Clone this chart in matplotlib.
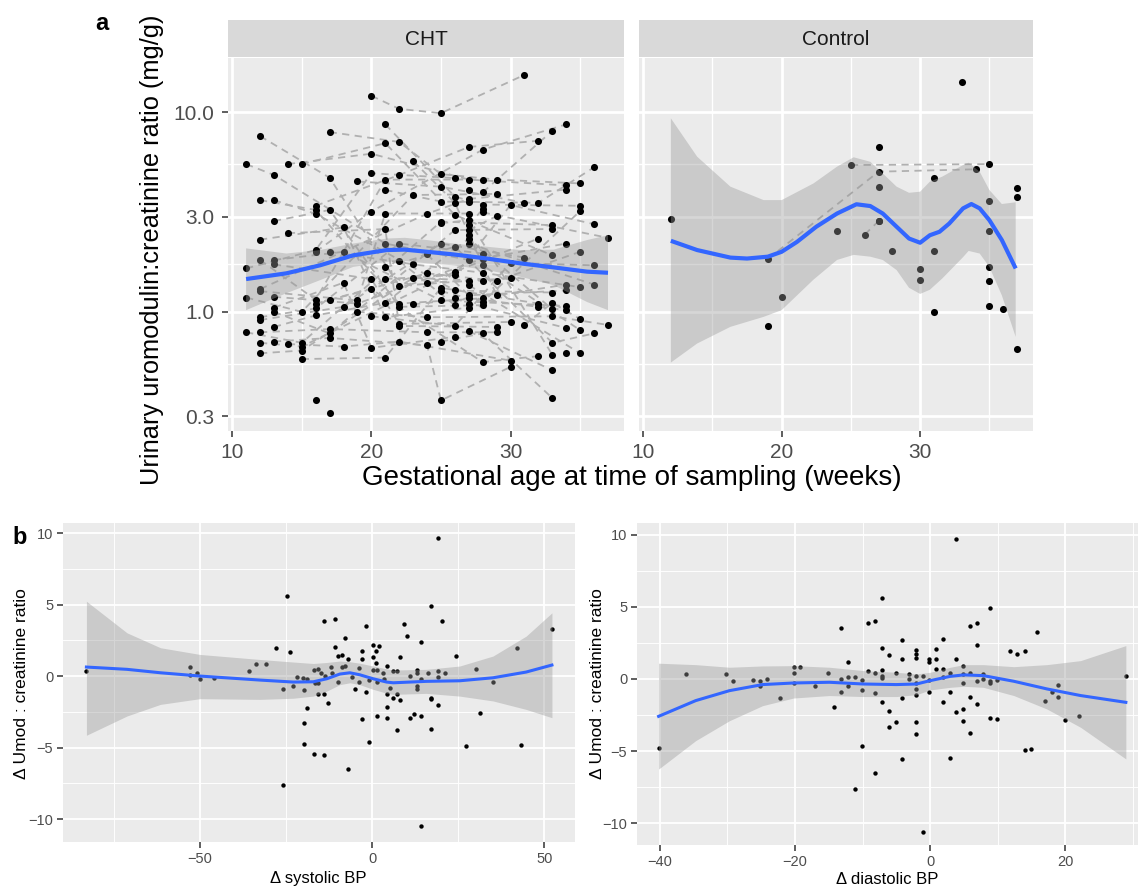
import numpy as np
import matplotlib
matplotlib.use("Agg")
import matplotlib.pyplot as plt
from matplotlib.ticker import FixedLocator, NullFormatter

plt.rcParams['font.family'] = ['Liberation Sans', 'DejaVu Sans']

# ---- panel a : CHT, one entry per sample; subject id links the dashed lines
cht_subject = [1, 1, 1, 1,  2, 2, 2, 2,  3, 3, 3, 3,  4, 4, 4, 4,  5, 5, 5, 5,
               6, 6, 6, 6,  7, 7, 7, 7,  8, 8, 8, 8,  9, 9, 9, 9,  10, 10, 10, 10,
               11, 11, 11, 11,  12, 12, 12, 12,  13, 13, 13, 13,  14, 14, 14, 14,
               15, 15, 15, 15,  16, 16, 16, 16,  17, 17, 17, 17,  18, 18, 18, 18,
               19, 19, 19, 19,  20, 20, 20, 20,  21, 21, 21, 21,  22, 22, 22, 22,
               23, 23, 23, 23, 23,  24, 24, 24, 24, 24,  25, 25, 25, 25,  26, 26, 26, 26,
               27, 27, 27, 27,  28, 28, 28, 28,  29, 29, 29, 29,  30, 30, 30, 30,
               31, 31, 31, 31,  32, 32, 32, 32,  33,  34, 34, 34, 34, 34,
               35, 35, 35, 35,  36, 36, 36, 36,  37,  38, 38, 38,  39, 39, 39, 39,
               40, 40, 40, 40,  41, 41, 41, 41,  42, 42, 42, 42,  43, 43, 43, 43,
               44, 44, 44, 44,  45, 45, 45, 45,  46, 46,  47, 47, 47, 47,  48, 48, 48, 48,
               49, 49,  50, 50, 50,  51, 51, 51,  52, 52, 52,  53, 53, 53,  54, 54, 54,
               55, 55,  56, 56,  57, 57, 57,  58, 58,  59, 59,  60, 60,  61, 61,
               62, 62, 62,  63, 63,  64,  65,  66]
cht_week = [11, 13, 21, 27,  11, 16, 20, 26,  11, 15, 23, 29,  11, 15, 25, 33,  12, 17, 22, 27,
            12, 16, 22, 28,  12, 18, 21, 27,  12, 16, 21, 28,  12, 24, 27, 34,  12, 19, 21, 27,
            12, 16, 22, 28,  12, 18, 25, 31,  12, 17, 24, 29,  12, 15, 26, 32,
            12, 15, 23, 28,  13, 16, 26, 33,  13, 17, 22, 28,  13, 18, 25, 34,
            13, 20, 22, 30,  13, 19, 28, 34,  13, 18, 20, 26,  13, 17, 26, 33,
            13, 16, 21, 27, 33,  13, 17, 24, 25, 30,  14, 20, 27, 34,  14, 21, 22, 29,
            14, 18, 22, 30,  15, 21, 26, 33,  15, 21, 25, 32,  16, 22, 27, 32,
            16, 20, 28, 34,  16, 20, 28, 32,  16,  17, 22, 25, 29, 35,
            17, 23, 28, 35,  17, 24, 29, 35,  17,  19, 25, 31,  19, 24, 33, 37,
            20, 22, 25, 31,  20, 26, 30, 36,  21, 26, 28, 35,  21, 25, 32, 36,
            21, 26, 33, 36,  21, 26, 30, 36,  22, 26,  23, 26, 29, 34,  23, 27, 32, 34,
            24, 30,  24, 27, 34,  25, 27, 33,  25, 28, 35,  25, 28, 33,  26, 27, 34,
            27, 28,  27, 29,  27, 28, 35,  27, 36,  27, 35,  27, 33,  28, 33,
            31, 33, 35,  28, 37,  27,  27,  34]
cht_ratio = [5.5, 4.85, 2.2, 1.82,  1.65, 2.04, 4.95, 4.68,  1.18, 1.0, 3.85, 3.9,  0.79, 0.7, 2.83, 2.72,
             7.6, 4.7, 1.35, 1.43,  3.63, 3.24, 1.1, 1.17,  2.3, 2.65, 0.94, 1.05,  1.82, 1.15, 4.6, 4.6,
             1.3, 3.1, 3.68, 4.1,  1.27, 1.14, 3.11, 3.11,  0.94, 1.04, 2.2, 1.96,  0.91, 1.06, 2.2, 1.87,
             0.79, 0.82, 0.79, 0.79,  0.7, 0.67, 1.59, 2.33,  0.62, 0.64, 1.48, 1.43,  3.63, 3.1, 1.28, 1.25,
             2.85, 3.24, 1.06, 1.08,  1.82, 2.0, 1.14, 1.07,  1.73, 1.46, 0.87, 0.89,  1.19, 1.1, 1.85, 2.2,
             1.05, 1.4, 0.66, 0.75,  1.0, 0.78, 2.57, 2.6,  0.84, 0.96, 1.11, 2.33, 1.03,
             0.71, 0.74, 0.68, 0.36, 0.53,  5.5, 6.2, 4.6, 4.3,  2.48, 2.6, 0.85, 0.84,
             0.69, 0.67, 0.71, 0.57,  5.5, 7.0, 3.06, 1.92,  0.58, 0.59, 1.32, 1.1,  3.4, 4.85, 6.7, 7.2,
             2.0, 3.18, 6.5, 8.7,  1.1, 1.3, 0.56, 0.6,  0.36,  7.96, 7.1, 4.9, 4.6, 4.4,
             2.0, 1.73, 1.57, 1.33,  1.15, 1.56, 1.43, 2.0,  0.31,  4.5, 4.24, 3.52,  1.0, 0.94, 0.95, 0.86,
             12.1, 10.4, 9.9, 15.4,  0.95, 0.85, 1.76, 1.71,  8.7, 3.78, 3.45, 3.4,  4.08, 3.57, 3.52, 5.3,
             1.67, 2.12, 0.7, 0.78,  1.46, 1.53, 3.43, 2.75,  1.8, 1.08,  5.7, 3.52, 1.21, 1.37,
             1.09, 1.17, 1.06, 1.02,  1.4, 1.47,  1.94, 1.21, 1.28,  2.78, 2.88, 0.61,  1.27, 1.12, 3.2,
             0.71, 0.78, 0.37,  1.17, 1.1, 0.83,  2.72, 3.27,  2.57, 3.02,  2.43, 1.71, 0.81,  2.2, 1.37,
             1.36, 0.62,  0.8, 0.51,  3.97, 8.07,  0.86, 1.11, 0.92,  3.15, 2.35,  4.1,  3.57,  0.62]

# loess fit
cht_fit_week = [11.0, 13.9, 16.3, 18.7, 21.1, 22.4, 24.0, 25.9, 28.3, 30.7, 33.1, 35.5, 37.0]
cht_fit = [1.46, 1.56, 1.71, 1.92, 2.04, 2.05, 2.00, 1.94, 1.85, 1.75, 1.67, 1.59, 1.57]
cht_upper = [2.08, 1.96, 2.04, 2.20, 2.33, 2.35, 2.29, 2.20, 2.12, 2.04, 2.05, 2.29, 2.42]
cht_lower = [1.02, 1.24, 1.44, 1.68, 1.78, 1.80, 1.75, 1.71, 1.62, 1.50, 1.36, 1.12, 1.02]

# ---- panel a : Control
ctl_subject = [1, 1, 1, 2, 2, 3, 3, 4, 5, 6, 7, 8, 9, 10, 11, 12, 13, 14, 15, 16, 17, 18, 19,
               20, 21, 22, 23, 24, 25, 26]
ctl_week = [19, 27, 34, 25, 35, 26, 27, 12, 19, 20, 24, 27, 27, 27, 28, 30, 30, 31, 31, 31, 33, 35,
            35, 35, 35, 35, 36, 37, 37, 37]
ctl_ratio = [1.84, 5.04, 5.18, 5.44, 5.5, 2.44, 2.85, 2.92, 0.85, 1.19, 2.54, 6.67, 4.2, 2.85, 2.01,
             1.64, 1.45, 4.67, 2.01, 1.0, 14.2, 3.59, 2.54, 1.68, 1.43, 1.07, 1.03, 4.17, 3.76, 0.65]

ctl_fit_week = [12.0, 13.9, 16.3, 17.5, 19.0, 20.0, 21.1, 22.5, 24.0, 25.4, 26.4, 27.3, 28.3, 29.2,
                30.0, 30.7, 31.4, 32.1, 33.1, 33.7, 34.3, 35.0, 35.9, 36.9]
ctl_fit = [2.27, 2.04, 1.87, 1.85, 1.89, 2.00, 2.24, 2.67, 3.11, 3.46, 3.39, 3.11, 2.67, 2.33,
           2.22, 2.42, 2.52, 2.77, 3.30, 3.47, 3.30, 2.88, 2.29, 1.65]
ctl_band_week = [12.0, 13.9, 16.3, 18.7, 20.0, 22.3, 24.0, 25.2, 26.4, 27.3, 28.3, 29.2, 30.0, 30.7,
                 31.6, 33.1, 33.5, 34.3, 35.0, 35.9, 36.9]
ctl_upper = [9.33, 5.99, 4.24, 3.63, 3.63, 4.40, 5.34, 5.95, 5.65, 4.94, 4.24, 3.95, 4.00, 4.49,
             4.76, 5.44, 5.59, 5.04, 4.08, 3.47, 3.54]
ctl_lower = [0.557, 0.694, 0.841, 0.944, 1.02, 1.45, 1.82, 1.93, 1.89, 1.82, 1.62, 1.32, 1.23, 1.29,
             1.47, 1.88, 2.02, 1.96, 1.68, 1.21, 0.749]

# ---- panel b : change in systolic BP
sys_bp = [-83.0, -52.9, -52.9, -50.9, -50.0, -45.9, -35.9, -33.8, -30.9, -27.9, -25.8, -24.8, -23.9,
          -25.8, -22.9, -21.7, -20.0, -19.8, -19.8, -19.8, -19.0, -18.8, -16.8, -16.8, -16.6, -15.8,
          -15.8, -15.7, -14.8, -13.9, -13.9, -13.9, -13.7, -12.9, -11.9, -11.8, -10.8, -10.8, -9.9,
          -9.9, -8.9, -8.7, -7.9, -7.9, -6.9, -6.9, -5.9, -4.9, -3.9, -3.9, -2.9, -2.9, -2.9, -1.9,
          -1.9, -0.9, -0.9, 0.1, 0.1, 0.3, 1.1, 1.1, 1.3, 1.3, 1.3, 2.1, 3.0, 3.4, 4.2, 4.2, 4.2, 4.2,
          5.1, 6.1, 6.1, 7.1, 7.1, 7.1, 8.0, 8.1, 9.1, 10.0, 11.0, 11.1, 12.1, 13.0, 13.0, 13.0, 13.0,
          14.1, 14.1, 14.1, 14.1, 16.1, 17.1, 17.1, 17.1, 17.1, 19.1, 19.1, 19.1, 19.1, 20.2, 21.2,
          24.2, 27.1, 30.1, 31.2, 35.1, 42.1, 43.2, 52.2]
sys_umod = [0.35, 0.65, 0.07, 0.19, -0.19, -0.16, 0.35, 0.81, 0.86, 1.93, -0.88, 5.63, 1.67,
            -7.6, -0.70, -0.05, -0.14, -0.98, -3.30, -4.72, -0.19, -2.26, 0.42, -5.44, -0.49, 0.47,
            -1.26, -0.47, 0.19, 3.88, -1.28, -5.51, 0.0, -1.91, 0.65, 0.23, 4.02, 2.02, 1.40,
            -0.44, 1.47, 0.65, 2.67, 0.70, 1.21, -6.47, -0.09, -0.91, 0.53, -0.42, 1.74, 1.21, -2.98, 3.53,
            -1.12, -0.28, -4.58, 2.16, 1.35, 0.42, 1.74, 0.88, 0.42, -0.40, -2.79, 2.09, 0.19, -0.19, 0.70, -1.23, -2.16, -2.91,
            -0.84, 0.35, -1.53, 0.35, -1.23, -3.79, 1.35, -1.70, 3.67, 2.77, 0.0, -2.93, -2.63, 0.40, 0.23, -0.70, -0.93,
            2.37, -0.19, -2.81, -10.49, 0.23, 4.91, -1.51, -1.63, -3.70, 9.67, 0.35, -0.05, -2.05, 3.88, 0.21,
            1.42, -4.86, 0.47, -2.56, -0.42, 1.98, -4.81, 3.26]

sys_fit_x = [-83.0, -71.2, -61.5, -50.0, -32.6, -22.9, -17.1, -13.2, -9.4, -6.5, -3.6, 0.3, 4.2,
             6.1, 15.7, 25.4, 35.1, 44.7, 52.2]
sys_fit = [0.63, 0.47, 0.23, 0.0, -0.28, -0.42, -0.40, -0.19, 0.14, 0.23, 0.09, -0.19, -0.42,
           -0.47, -0.37, -0.33, -0.12, 0.28, 0.77]
sys_upper = [5.23, 3.02, 1.98, 1.51, 1.16, 0.98, 0.88, 0.95, 1.05, 1.0, 0.9, 0.70, 0.50,
             0.42, 0.47, 0.70, 1.40, 2.79, 4.42]
sys_lower = [-4.14, -2.79, -1.98, -1.58, -1.63, -1.55, -1.40, -1.05, -0.60, -0.47, -0.60, -0.93, -1.20,
             -1.28, -1.21, -1.40, -1.74, -2.33, -2.91]

# ---- panel b : change in diastolic BP
dia_bp = [-40.2, -36.2, -30.2, -29.2, -26.2, -25.2, -25.2, -24.2, -22.2, -20.2, -20.2, -20.2, -19.2,
          -17.1, -15.1, -14.2, -13.2, -13.2, -13.2, -12.1, -12.1, -12.1, -11.1, -11.1, -10.1, -10.1,
          -10.1, -9.2, -9.2, -8.2, -8.2, -8.2, -8.2, -7.1, -7.1, -7.1, -7.1, -7.1, -7.1, -6.1, -6.1,
          -6.1, -5.1, -5.1, -4.1, -4.1, -4.1, -4.1, -3.1, -3.1, -2.1, -2.1, -2.1, -2.1, -2.1, -2.1,
          -2.1, -2.1, -2.1, -1.1, -1.1, -0.1, -0.1, -0.1, -0.1, 0.9, 0.9, 0.9, 1.9, 1.9, 1.9, 1.9,
          2.9, 2.9, 2.9, 3.9, 3.9, 3.9, 4.9, 4.9, 4.9, 4.9, 4.9, 5.9, 5.9, 5.9, 5.9, 6.9, 6.9, 6.9,
          6.9, 7.9, 7.9, 8.9, 8.9, 8.9, 8.9, 9.9, 9.9, 11.9, 12.9, 14.0, 14.0, 15.0, 15.9, 17.0, 18.0,
          19.0, 19.0, 20.0, 22.0, 29.0]
dia_umod = [-4.78, 0.32, 0.32, -0.14, -0.07, -0.16, -0.46, 0.02, -1.29, 0.85, 0.42, -0.28, 0.81,
            -0.51, 0.44, -1.94, 3.53, 0.02, -0.92, 1.20, 0.14, -0.51, 0.16, -7.64, -0.07, -0.76,
            -4.62, 3.88, 0.58, 4.04, 0.39, -0.97, -6.54, 5.64, 2.17, 0.60, 0.21, 0.07, -1.57, 1.66, -2.19,
            -3.35, 0.44, -2.96, 2.68, 1.39, -1.32, -5.54, 0.37, -0.02, 2.03, 1.73, 1.48, 0.21, -0.28, -0.69,
            -1.13, -3.00, -3.83, 0.23, -10.58, 1.36, 1.18, -0.07, -0.92, 2.10, 1.41, 0.67, 2.77, 0.67, 0.16, -1.59,
            0.42, -0.88, -5.47, 9.72, 1.36, -2.29, 0.88, 0.35, -0.28, -2.08, -2.91, 3.70, 0.42, -1.27, -3.72,
            3.88, 2.38, -0.16, -1.73, 0.32, 0.02, 4.92, -0.12, -0.28, -2.70, -0.07, -2.79, 1.92, 1.73, 1.96,
            -4.92, -4.85, 3.26, -1.52, -0.90, -0.42, -1.27, -2.84, -2.59, 0.18]

dia_fit_x = [-40.2, -34.7, -29.7, -24.8, -20.2, -14.9, -9.9, -5.0, -2.0, 0.0, 3.0, 5.0, 7.9, 12.4,
             17.3, 22.3, 29.0]
dia_fit = [-2.59, -1.50, -0.81, -0.39, -0.28, -0.23, -0.35, -0.39, -0.35, -0.12, 0.18, 0.28, 0.23,
           -0.16, -0.69, -1.15, -1.62]
dia_upper = [1.09, 0.99, 0.81, 0.90, 0.92, 0.81, 0.58, 0.46, 0.35, 0.46, 0.81, 0.99, 0.99, 0.85,
             0.99, 1.27, 2.31]
dia_lower = [-6.24, -4.27, -2.89, -1.85, -1.32, -1.15, -1.22, -1.22, -1.09, -0.76, -0.58, -0.51,
             -0.58, -1.15, -2.08, -3.35, -5.54]

BG = '#EBEBEB'
BLUE = '#3366FF'
TICKC = '#333333'
LABC = '#4D4D4D'


def ggplot_axes(ax, major_lw, minor_lw, tick_size):
    ax.set_facecolor(BG)
    for s in ax.spines.values():
        s.set_visible(False)
    ax.set_axisbelow(True)
    ax.grid(which='major', color='white', lw=major_lw)
    ax.grid(which='minor', color='white', lw=minor_lw)
    ax.tick_params(which='major', length=4, width=1.1, color=TICKC,
                   labelcolor=LABC, labelsize=tick_size)
    ax.tick_params(which='minor', length=0)


fig = plt.figure(figsize=(11.4, 8.92), dpi=100)
W, H = 1140.0, 892.0


def box(l, t, r, b):
    return [l / W, 1 - b / H, (r - l) / W, (b - t) / H]


# ----------------- panel a -----------------
ax_cht = fig.add_axes(box(228, 58, 624, 431))
ax_ctl = fig.add_axes(box(639, 58, 1033, 431))

for ax, subj, wk, rt, fx, fy, bx, up, lo, title in [
        (ax_cht, cht_subject, cht_week, cht_ratio, cht_fit_week, cht_fit, cht_fit_week, cht_upper, cht_lower, 'CHT'),
        (ax_ctl, ctl_subject, ctl_week, ctl_ratio, ctl_fit_week, ctl_fit, ctl_band_week, ctl_upper, ctl_lower, 'Control')]:
    subj = np.array(subj)
    wk = np.array(wk)
    rt = np.array(rt)
    for s in np.unique(subj):
        m = subj == s
        if m.sum() > 1:
            ax.plot(wk[m], rt[m], color='#B0B0B0', lw=1.3, ls=(0, (4, 3)), zorder=2)
    ax.scatter(wk, rt, s=26, color='black', lw=0, zorder=3)
    ax.fill(np.r_[bx, bx[::-1]], np.r_[up, lo[::-1]], color='#999999', alpha=0.4, lw=0, zorder=4)
    ax.plot(fx, fy, color=BLUE, lw=3.0, zorder=5, solid_capstyle='butt')

    ax.set_yscale('log')
    ax.set_xlim(9.7, 38.15)
    ax.set_ylim(10 ** -0.597, 10 ** 1.272)
    ax.set_xticks([10, 20, 30])
    ax.xaxis.set_minor_locator(FixedLocator([15, 25, 35]))
    ax.yaxis.set_major_locator(FixedLocator([0.3, 1, 3, 10]))
    ax.yaxis.set_minor_locator(FixedLocator([10 ** -0.2614, 3 ** 0.5, 30 ** 0.5]))
    ax.yaxis.set_minor_formatter(NullFormatter())
    ggplot_axes(ax, 2.0, 1.0, 15)
    ax.tick_params(axis='x', pad=5)
    ax.tick_params(axis='y', pad=6)

    pos = ax.get_position()
    strip = fig.add_axes([pos.x0, 1 - 57 / H, pos.width, 37 / H])
    strip.set_facecolor('#D9D9D9')
    strip.set_xticks([])
    strip.set_yticks([])
    for s in strip.spines.values():
        s.set_visible(False)
    strip.text(0.5, 0.47, title, ha='center', va='center', fontsize=15, color='#1A1A1A')

ax_cht.set_yticklabels(['0.3', '1.0', '3.0', '10.0'])
ax_ctl.tick_params(axis='y', which='both', left=False, labelleft=False)

fig.text(0.554, 1 - 478 / H, 'Gestational age at time of sampling (weeks)', ha='center', va='center',
         fontsize=20)
fig.text(0.133, 1 - 250 / H, 'Urinary uromodulin:creatinine ratio (mg/g)', ha='center', va='center',
         fontsize=18.3, rotation=90)
fig.text(102 / W, 1 - 24 / H, 'a', ha='center', va='center', fontsize=17, fontweight='bold')

# ----------------- panel b -----------------
ax_sys = fig.add_axes(box(63, 523, 575, 842))
ax_dia = fig.add_axes(box(637, 523, 1138, 845))

for ax, x, y, fx, fy, up, lo in [
        (ax_sys, sys_bp, sys_umod, sys_fit_x, sys_fit, sys_upper, sys_lower),
        (ax_dia, dia_bp, dia_umod, dia_fit_x, dia_fit, dia_upper, dia_lower)]:
    ax.scatter(x, y, s=10, color='black', lw=0, zorder=3)
    ax.fill_between(fx, lo, up, color='#999999', alpha=0.4, lw=0, zorder=4)
    ax.plot(fx, fy, color=BLUE, lw=2.2, zorder=5)
    ax.set_yticks([-10, -5, 0, 5, 10])
    ax.yaxis.set_minor_locator(FixedLocator([-7.5, -2.5, 2.5, 7.5]))
    ggplot_axes(ax, 1.3, 0.65, 10.5)
    ax.tick_params(axis='both', pad=3)

ax_sys.set_xlim(-89.8, 58.9)
ax_sys.set_ylim(-11.6, 10.7)
ax_sys.set_xticks([-50, 0, 50])
ax_sys.xaxis.set_minor_locator(FixedLocator([-75, -25, 25]))

ax_dia.set_xlim(-43.4, 30.8)
ax_dia.set_ylim(-11.5, 10.8)
ax_dia.set_xticks([-40, -20, 0, 20])
ax_dia.xaxis.set_minor_locator(FixedLocator([-30, -10, 10, 30]))

fig.text(318 / W, 1 - 878 / H, '\u0394 systolic BP', ha='center', va='center', fontsize=12)
fig.text(887 / W, 1 - 880 / H, '\u0394 diastolic BP', ha='center', va='center', fontsize=12)
fig.text(22 / W, 1 - 684 / H, '\u0394 Umod : creatinine ratio', ha='center', va='center',
         fontsize=12.5, rotation=90)
fig.text(598 / W, 1 - 684 / H, '\u0394 Umod : creatinine ratio', ha='center', va='center',
         fontsize=12.5, rotation=90)
fig.text(20 / W, 1 - 537 / H, 'b', ha='center', va='center', fontsize=17, fontweight='bold')

fig.savefig('out.png', dpi=100, facecolor='white')
